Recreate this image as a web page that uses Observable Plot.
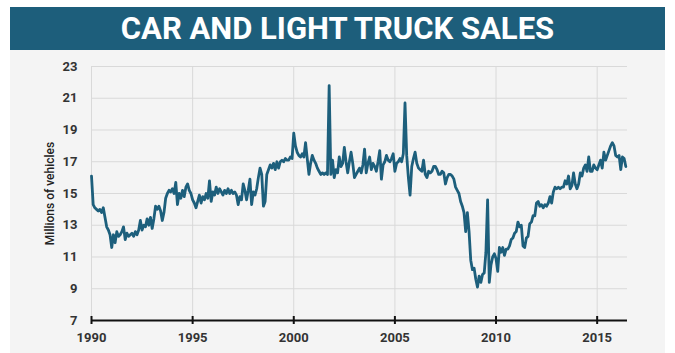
<!DOCTYPE html>
<html><head><meta charset="utf-8">
<script src="https://cdn.jsdelivr.net/npm/d3@7"></script>
<script src="https://cdn.jsdelivr.net/npm/@observablehq/plot@0.6"></script>
<style>
body{margin:0;background:#fff;font-family:Roboto,sans-serif;}
#wrap{position:relative;width:675px;height:353px;overflow:hidden;}
#title{position:absolute;left:10px;top:7px;width:655px;height:43px;background:#1d5e7b;color:#fff;font-family:Roboto,sans-serif;font-weight:700;font-size:31px;display:flex;align-items:center;justify-content:center;}
#panel{position:absolute;left:10px;top:50px;width:655px;height:303px;background:#f4f4f4;}
</style></head><body>
<div id="wrap"><div id="title">CAR AND LIGHT TRUCK SALES</div><div id="panel"></div></div>
<script>
const titleText = "CAR AND LIGHT TRUCK SALES";
const yLabel = "Millions of vehicles";
const startYear = 1990;
// Monthly sales, millions of vehicles (SAAR), Jan 1990 – Jun 2016
const sales1990s = [
  16.1,14.3,14.1,14.0,13.9,14.0,13.8,14.1,13.5,12.9,12.7,12.4,
  11.6,12.4,11.9,12.6,12.3,12.4,12.6,12.9,12.1,12.5,12.3,12.4,
  12.5,12.3,12.6,12.4,12.7,13.3,12.7,13.0,12.9,13.4,13.0,13.5,
  12.8,13.4,14.2,14.0,14.2,13.9,13.3,13.8,14.7,15.0,15.2,15.1,
  15.3,15.0,15.7,14.3,15.0,14.7,15.2,14.8,15.4,15.6,15.2,15.0,
  14.6,14.4,14.1,14.5,14.9,14.4,14.8,14.6,15.0,14.7,15.8,14.5,
  15.1,14.9,15.4,15.0,15.3,15.1,14.9,15.2,15.0,15.3,15.0,15.2,
  15.0,15.1,14.9,14.3,14.8,14.6,15.6,15.2,14.6,15.2,15.9,14.3,
  15.1,14.9,15.3,16.0,16.6,16.2,14.2,14.5,16.2,16.5,16.8,16.6,
  16.9,16.5,17.0,16.6,17.0,17.1,17.0,17.2,17.1,17.1,17.3,17.2
];
const sales2000s = [
  18.8,18.0,17.6,17.4,17.3,17.5,17.3,18.2,17.2,16.2,16.9,17.4,
  17.1,16.9,16.6,16.4,16.2,16.3,16.2,16.3,16.2,21.8,16.2,17.1,
  16.0,16.5,16.3,17.3,16.7,16.9,17.9,17.0,16.3,17.0,17.6,16.9,
  16.0,16.2,16.4,16.6,16.3,16.8,17.8,16.3,16.9,17.3,16.5,16.9,
  16.7,16.4,17.0,17.7,15.9,16.8,17.0,17.4,17.1,17.0,17.2,17.5,
  16.4,16.9,17.0,17.2,17.0,17.5,20.7,17.4,16.0,14.9,16.7,17.2,
  17.6,16.9,16.6,16.5,16.4,17.1,16.2,16.0,16.4,16.3,16.4,16.7,
  16.7,16.5,16.2,16.2,16.4,16.3,15.6,16.0,16.2,16.2,16.1,15.9,
  15.4,15.2,15.0,14.5,14.2,13.8,12.6,13.8,12.6,10.8,10.2,10.3,
  9.6,9.1,9.8,9.4,9.9,10.0,11.3,14.6,9.4,10.5,11.0,11.2
];
const sales2010s = [
  10.9,10.1,11.6,11.3,11.6,11.1,11.5,11.5,11.7,12.1,12.2,12.5,
  12.6,13.2,12.9,13.0,11.7,11.6,12.2,12.3,13.1,13.2,13.6,13.6,
  14.4,14.5,14.2,14.3,14.1,14.3,14.2,14.4,14.8,14.4,15.1,15.4,
  15.3,15.4,15.3,15.4,15.4,15.8,15.6,16.1,15.3,15.5,16.3,15.6,
  15.3,15.6,16.3,16.1,16.6,16.8,16.4,17.3,16.4,16.4,16.8,16.6,
  16.5,16.8,17.1,16.6,17.6,17.1,17.4,17.7,18.0,18.2,18.0,17.4,
  17.3,17.4,16.5,17.3,17.2,16.7
];
const xTicks = [1990, 1995, 2000, 2005, 2010, 2015];
const yTicks = [7, 9, 11, 13, 15, 17, 19, 21, 23];
const yGrid = [9, 11, 13, 15, 17, 19, 21, 23];

const sales = [...sales1990s, ...sales2000s, ...sales2010s];
const data = sales.map((v, i) => ({date: startYear + i / 12, value: v}));

document.getElementById("title").textContent = titleText;
const lineColor = "#1d5f7c";
const txt = "#333";

const chart = Plot.plot({
  width: 655, height: 303,
  marginLeft: 81, marginRight: 38, marginTop: 16, marginBottom: 33,
  style: {background: "transparent", fontFamily: "Roboto, sans-serif", overflow: "visible"},
  x: {domain: [1990, 2016.5]},
  y: {domain: [7, 23]},
  marks: [
    Plot.gridY(yGrid, {stroke: "#d9d9d9", strokeOpacity: 1, strokeWidth: 1}),
    Plot.gridX(xTicks, {stroke: "#d9d9d9", strokeOpacity: 1, strokeWidth: 1}),
    Plot.line(data, {x: "date", y: "value", stroke: lineColor, strokeWidth: 2.8, strokeLinejoin: "round"}),
    Plot.ruleY([7], {stroke: "#111", strokeWidth: 2}),
    Plot.ruleX(xTicks, {x: d => d, y1: 7, y2: 7, insetTop: -4, insetBottom: -4, stroke: "#111", strokeWidth: 2}),
    Plot.axisX(xTicks, {tickSize: 0, tickPadding: 12, tickFormat: d => String(d), fontSize: 13, fontWeight: "bold", fill: txt, label: null}),
    Plot.axisY(yTicks, {tickSize: 0, tickPadding: 14, fontSize: 13, fontWeight: "bold", fill: txt, label: null}),
    Plot.text([yLabel], {text: d => d, frameAnchor: "left", dx: -41, rotate: -90, textAnchor: "middle", fontSize: 12, fontWeight: 500, fill: "#222"})
  ]
});
document.getElementById("panel").appendChild(chart);
</script>
</body></html>
